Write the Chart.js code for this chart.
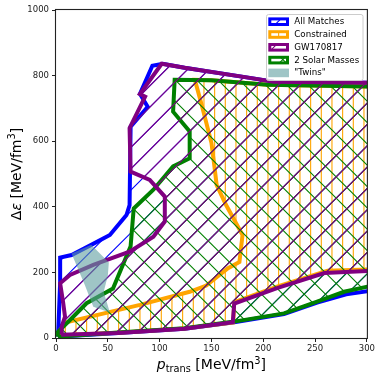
<!DOCTYPE html>
<html><head><meta charset="utf-8">
<script src="https://cdn.jsdelivr.net/npm/chart.js@4.4.1/dist/chart.umd.min.js"></script>
<style>html,body{margin:0;padding:0;background:#fff;}canvas{display:block;}</style>
</head><body>
<canvas id="c" width="377" height="373"></canvas>
<script>
// ---- data (p_trans [MeV/fm^3], Δε [MeV/fm^3]) ----
const xTicks = [0, 50, 100, 150, 200, 250, 300];
const yTicks = [0, 200, 400, 600, 800, 1000];
const seriesNames = ['All Matches', 'Constrained', 'GW170817', '2 Solar Masses', '"Twins"'];

const allMatchesP = [2, 4, 4, 15, 34, 52, 68, 71, 72, 88.5, 81, 93, 103, 124, 187, 210, 310, 310, 280, 252, 220, 172, 124, 60, 2];
const allMatchesE = [4, 170, 245, 253, 284, 314, 375, 405, 644, 705, 744, 830, 836, 824, 793, 781, 778, 147, 133, 108, 73, 48, 28, 15, 4];

const constrainedP = [2, 3, 10, 81, 129, 145, 166, 177, 180, 164, 155, 153, 150, 141, 134, 150, 204, 310, 310, 262, 214, 172, 171, 124, 60, 2];
const constrainedE = [8, 20, 48, 101, 141, 160, 213, 232, 314, 406, 467, 520, 595, 706, 787, 786, 772, 766, 210, 205, 157, 109, 47, 29, 16, 8];

const gw170817P = [5, 5.5, 8.7, 7, 4, 13.5, 36, 71, 94, 105, 105, 90.5, 72, 71, 86, 81, 102, 124, 187, 210, 310, 310, 259, 214, 172, 170.6, 124, 60, 5];
const gw170817E = [10, 35, 65, 106, 167, 192, 223, 263, 309, 355, 431, 482, 507, 640, 736, 744, 836, 824, 793, 781, 778, 206, 198, 153, 105, 48, 28, 15, 10];

const solarMassP = [2, 2, 13.5, 29.5, 55, 72, 75, 94, 113, 129, 129, 113, 114.5, 150, 204, 310, 310, 278, 252, 220, 172, 124, 60, 2];
const solarMassE = [4, 19, 55, 106, 151, 280, 395, 452, 523, 548, 630, 690, 787, 786, 772, 766, 163, 141, 111, 75, 50, 30, 17, 4];

const twinsP = [15, 34, 51, 50, 46, 52, 36, 28, 15];
const twinsE = [258, 284, 230, 190, 140, 78, 95, 160, 258];

// ---- styles ----
const BLUE = '#0000ff', ORANGE = '#ffa500', PURPLE = '#800080', GREEN = '#008000';
const TWINS = 'rgba(95,158,160,0.6)';

function makePattern(color, kinds) {
  const T = 64, s = T / 3;
  const cv = document.createElement('canvas');
  cv.width = T; cv.height = T;
  const g = cv.getContext('2d');
  g.strokeStyle = color; g.lineWidth = 1.1;
  g.beginPath();
  if (kinds.includes('/')) {
    for (let k = -2; k <= 8; k++) { const c0 = 1 + k * s; g.moveTo(-T, c0 + T); g.lineTo(2 * T, c0 - 2 * T); }
  }
  if (kinds.includes('\\')) {
    for (let k = -5; k <= 5; k++) { const c1 = 10 + k * s; g.moveTo(-T, -T - c1); g.lineTo(2 * T, 2 * T - c1); }
  }
  if (kinds.includes('|')) {
    const v = T / 6;
    for (let k = 0; k < 6; k++) { const x = 1.3 + k * v; g.moveTo(x, -1); g.lineTo(x, T + 1); }
  }
  g.stroke();
  return g.createPattern(cv, 'repeat');
}
const ctx = document.getElementById('c').getContext('2d');
const patBlue = makePattern(BLUE, '/');
const patOrange = makePattern(ORANGE, '|');
const patPurple = makePattern(PURPLE, '/');
const patGreen = makePattern(GREEN, '/\\');

const pts = (P, E) => P.map((p, i) => ({x: p, y: E[i]}));
function poly(label, P, E, edge, fillPat, order, bw) {
  return {label, data: pts(P, E), showLine: true, fill: 'shape', backgroundColor: fillPat,
    borderColor: edge, borderWidth: bw, pointRadius: 0, pointHoverRadius: 0, tension: 0,
    borderJoinStyle: 'miter', clip: 0, order};
}
const datasets = [
  poly(seriesNames[0], allMatchesP, allMatchesE, BLUE, patBlue, 4, 4),
  poly(seriesNames[1], constrainedP, constrainedE, ORANGE, patOrange, 3, 4),
  poly(seriesNames[3], solarMassP, solarMassE, GREEN, patGreen, 2, 4),
  poly(seriesNames[2], gw170817P, gw170817E, PURPLE, patPurple, 1, 4),
  poly(seriesNames[4], twinsP, twinsE, 'rgba(0,0,0,0)', TWINS, 0, 0)
];

const legendItems = [
  {name: seriesNames[0], edge: BLUE, pat: patBlue},
  {name: seriesNames[1], edge: ORANGE, pat: patOrange},
  {name: seriesNames[2], edge: PURPLE, pat: patPurple},
  {name: seriesNames[3], edge: GREEN, pat: patGreen},
  {name: seriesNames[4], solid: TWINS}
];

const FONT = '"DejaVu Sans", sans-serif';

const framePlugin = {
  id: 'frame',
  afterDatasetsDraw(chart) {
    const a = chart.chartArea, c = chart.ctx;
    c.save(); c.strokeStyle = '#222'; c.lineWidth = 1.1;
    c.strokeRect(a.left - 0.5, a.top - 0.5, a.right - a.left + 1, a.bottom - a.top + 1);
    c.restore();
  }
};

const legendPlugin = {
  id: 'boxLegend',
  afterDraw(chart) {
    const c = chart.ctx;
    c.save();
    c.beginPath();
    c.roundRect(266.5, 14.5, 96.5, 66, 2);
    c.fillStyle = 'rgba(255,255,255,0.8)'; c.fill();
    c.strokeStyle = '#cccccc'; c.lineWidth = 1; c.stroke();
    const rows = [21.7, 34.5, 47.3, 60.1, 72.9];
    c.font = '8.7px ' + FONT; c.textBaseline = 'middle'; c.fillStyle = '#000';
    legendItems.forEach((it, i) => {
      const y = rows[i];
      if (it.solid) {
        c.fillStyle = it.solid; c.fillRect(268.3, y - 4.3, 20.7, 8.6);
      } else {
        c.fillStyle = it.pat; c.fillRect(269.8, y - 2.8, 17.7, 5.6);
        c.strokeStyle = it.edge; c.lineWidth = 3; c.strokeRect(269.8, y - 2.8, 17.7, 5.6);
      }
      c.fillStyle = '#000'; c.fillText(it.name, 294.3, y + 0.3);
    });
    c.restore();
  }
};

function drawRich(c, parts, cx, baseY) {
  let w = 0;
  parts.forEach(p => { c.font = p.f; p.w = c.measureText(p.t).width; w += p.w; });
  let x = cx - w / 2;
  parts.forEach(p => { c.font = p.f; c.fillText(p.t, x, baseY + (p.dy || 0)); x += p.w; });
}
const titlePlugin = {
  id: 'titles',
  afterDraw(chart) {
    const c = chart.ctx, a = chart.chartArea;
    c.save(); c.fillStyle = '#000'; c.textBaseline = 'alphabetic';
    const big = '14px ' + FONT, bigI = 'italic 14px ' + FONT, small = '9.8px ' + FONT;
    drawRich(c, [
      {t: 'p', f: bigI}, {t: 'trans', f: small, dy: 3}, {t: ' [MeV/fm', f: big},
      {t: '3', f: small, dy: -5.5}, {t: ']', f: big}
    ], (a.left + a.right) / 2, 369);
    c.translate(15, (a.top + a.bottom) / 2);
    c.rotate(-Math.PI / 2);
    drawRich(c, [
      {t: 'Δ', f: big}, {t: 'ε', f: bigI}, {t: ' [MeV/fm', f: big},
      {t: '3', f: small, dy: -5.5}, {t: ']', f: big}
    ], 0, 5.5);
    c.restore();
  }
};

new Chart(ctx, {
  type: 'scatter',
  data: {datasets},
  options: {
    responsive: false, animation: false, devicePixelRatio: 1,
    layout: {padding: {left: 0, right: 9, top: 10, bottom: 0}},
    plugins: {legend: {display: false}, tooltip: {enabled: false}, filler: {drawTime: 'beforeDatasetDraw'}},
    events: [],
    scales: {
      x: {
        type: 'linear', min: 0, max: 300,
        afterBuildTicks: s => { s.ticks = xTicks.map(v => ({value: v})); },
        ticks: {color: '#222', font: {family: FONT, size: 8.5}, padding: 2, maxRotation: 0, autoSkip: false, callback: v => String(v)},
        grid: {display: true, drawOnChartArea: false, drawTicks: true, tickLength: 4, tickColor: '#222', tickWidth: 1},
        border: {display: false},
        afterFit: s => { s.height = 35; }
      },
      y: {
        type: 'linear', min: 0, max: 1000,
        afterBuildTicks: s => { s.ticks = yTicks.map(v => ({value: v})); },
        ticks: {color: '#222', font: {family: FONT, size: 8.5}, padding: 3, autoSkip: false, callback: v => String(v)},
        grid: {display: true, drawOnChartArea: false, drawTicks: true, tickLength: 4, tickColor: '#222', tickWidth: 1},
        border: {display: false},
        afterFit: s => { s.width = 56; }
      }
    }
  },
  plugins: [framePlugin, legendPlugin, titlePlugin]
});
</script>
</body></html>
